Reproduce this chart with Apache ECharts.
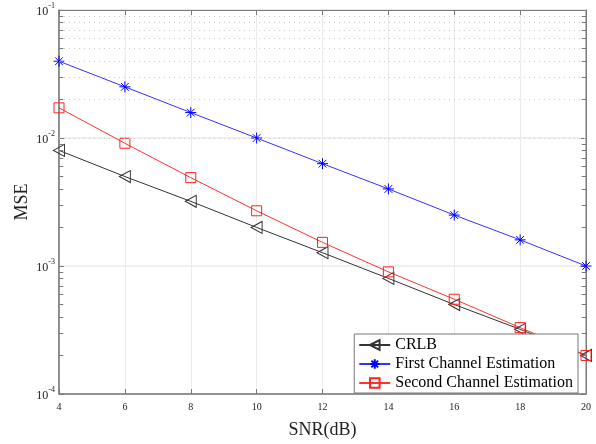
<!DOCTYPE html>
<html>
<head>
<meta charset="utf-8">
<script src="https://cdn.jsdelivr.net/npm/echarts@6/dist/echarts.min.js"></script>
<style>
  html, body { margin: 0; padding: 0; background: #fff; }
  #c1 { width: 596px; height: 444px; }
</style>
</head>
<body>
<div id="c1"></div>
<script>
const snr = [4, 6, 8, 10, 12, 14, 16, 18, 20]
const crlb = [0.008, 0.005, 0.0032, 0.002, 0.00127, 0.0008, 0.0005, 0.00032, 0.0002]
const firstEst = [0.0398, 0.0251, 0.0158, 0.01, 0.0063, 0.004, 0.0025, 0.0016, 0.001]
const secondEst = [0.0172, 0.0091, 0.0049, 0.0027, 0.00153, 0.0009, 0.00055, 0.00033, 0.0002]

// minor positions on the log axis (2..9 x 10^e)
const minorVals = []
for (let e = -4; e <= -2; e++) {
  for (let k = 2; k <= 9; k++) minorVals.push(k * Math.pow(10, e))
}

const serif = 'Liberation Serif'
const axisGray = '#7a7a7a'
const toPairs = (arr) => snr.map((x, i) => [x, arr[i]])

const chart = echarts.init(document.getElementById('c1'))

const minorLines = minorVals.map((v) => ({ yAxis: v }))
const minorTicks = []
minorVals.forEach((v) => {
  minorTicks.push([{ coord: [4, v] }, { coord: [4.13, v] }])
  minorTicks.push([{ coord: [19.87, v] }, { coord: [20, v] }])
})

const option = {
  animation: false,
  backgroundColor: '#fff',
  grid: {
    left: 59,
    right: 10,
    top: 10,
    bottom: 40,
    show: true,
    borderColor: axisGray,
    borderWidth: 1
  },
  legend: {
    orient: 'vertical',
    right: 18,
    bottom: 51,
    backgroundColor: '#fff',
    borderColor: '#777',
    borderWidth: 1,
    borderRadius: 0,
    padding: [3, 5, 2, 4],
    itemGap: 3,
    itemWidth: 31,
    itemHeight: 12,
    textStyle: { fontFamily: serif, fontSize: 16, color: '#000' },
    data: ['CRLB', 'First Channel Estimation', 'Second Channel Estimation']
  },
  xAxis: [
    {
      type: 'value',
      min: 4,
      max: 20,
      interval: 2,
      name: 'SNR(dB)',
      nameLocation: 'middle',
      nameGap: 27,
      nameMoveOverlap: false,
      nameTextStyle: { fontFamily: serif, fontSize: 18, color: '#222' },
      axisLine: { lineStyle: { color: axisGray, width: 1.5 } },
      axisTick: { inside: true, length: 5, lineStyle: { color: axisGray } },
      axisLabel: { fontFamily: serif, fontSize: 10, color: '#222', margin: 8 },
      splitLine: { show: true, lineStyle: { color: '#ebebeb', width: 1 } }
    },
    {
      type: 'value',
      min: 4,
      max: 20,
      interval: 2,
      position: 'top',
      axisLine: { show: true, lineStyle: { color: axisGray } },
      axisTick: { inside: true, length: 5, lineStyle: { color: axisGray } },
      axisLabel: { show: false },
      splitLine: { show: false }
    }
  ],
  yAxis: [
    {
      type: 'log',
      logBase: 10,
      min: 0.0001,
      max: 0.1,
      interval: 1,
      name: 'MSE',
      nameLocation: 'middle',
      nameGap: 28,
      nameMoveOverlap: false,
      nameTextStyle: { fontFamily: serif, fontSize: 18, color: '#222' },
      axisLine: { show: true, lineStyle: { color: axisGray, width: 1.5 } },
      axisTick: { show: true, inside: true, length: 5, lineStyle: { color: axisGray } },
      axisLabel: {
        margin: 4,
        formatter: (v) => '{b|10}{s|' + Math.round(Math.log10(v)) + '}',
        rich: {
          b: { fontFamily: serif, fontSize: 12, color: '#222', verticalAlign: 'bottom', lineHeight: 16 },
          s: { fontFamily: serif, fontSize: 8, color: '#222', verticalAlign: 'top', lineHeight: 16 }
        }
      },
      splitLine: { show: true, lineStyle: { color: '#ebebeb', width: 1.5 } }
    },
    {
      type: 'log',
      logBase: 10,
      min: 0.0001,
      max: 0.1,
      interval: 1,
      position: 'right',
      axisLine: { show: true, lineStyle: { color: axisGray } },
      axisTick: { show: true, inside: true, length: 5, lineStyle: { color: axisGray } },
      axisLabel: { show: false },
      splitLine: { show: false }
    }
  ],
  series: [
    {
      name: 'CRLB',
      type: 'line',
      data: toPairs(crlb),
      symbol: 'triangle',
      symbolRotate: 90,
      symbolSize: [12, 11],
      itemStyle: { color: 'rgba(0,0,0,0)', borderColor: '#333', borderWidth: 1 },
      lineStyle: { color: '#333', width: 1 },
      z: 3,
      markLine: {
        silent: true,
        symbol: 'none',
        label: { show: false },
        animation: false,
        lineStyle: { color: '#cccccc', type: [1, 4], width: 1 },
        data: minorLines
      }
    },
    {
      name: 'First Channel Estimation',
      type: 'line',
      data: toPairs(firstEst),
      symbol: 'path://M0,5L10,5M5,0L5,10M1.5,1.5L8.5,8.5M1.5,8.5L8.5,1.5',
      symbolSize: 11,
      itemStyle: { color: 'rgba(0,0,0,0)', borderColor: '#0000ff', borderWidth: 1 },
      lineStyle: { color: '#3333ff', width: 1 },
      z: 3
    },
    {
      name: 'Second Channel Estimation',
      type: 'line',
      data: toPairs(secondEst),
      symbol: 'rect',
      symbolSize: 10,
      itemStyle: { color: 'rgba(0,0,0,0)', borderColor: '#ff2020', borderWidth: 1 },
      lineStyle: { color: '#ff3333', width: 1 },
      z: 3
    },
    {
      name: 'minorTicks',
      type: 'line',
      data: [],
      markLine: {
        silent: true,
        symbol: 'none',
        label: { show: false },
        animation: false,
        lineStyle: { color: axisGray, type: 'solid', width: 1 },
        data: minorTicks
      }
    }
  ]
}

chart.setOption(option)
</script>
</body>
</html>
